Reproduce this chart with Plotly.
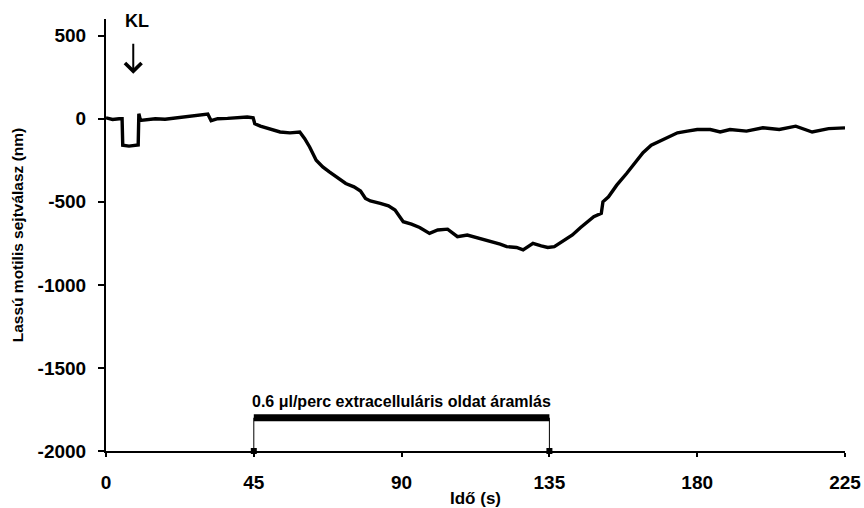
import plotly.graph_objects as go

# Trace readings (time in s, response in nm)
time_s = [0, 2, 4, 4.9, 5.1, 7, 9.8, 10.0, 10.5, 12,
          15, 18, 21, 24, 27, 29, 31, 32, 34, 37,
          40, 43, 44.8, 45.3, 47, 49, 51, 53, 56, 59,
          60.5, 62, 64, 66, 68, 70.5, 73, 75.5, 77.5, 79,
          80.5, 83.5, 86, 88, 90.5, 93, 95.5, 98.5, 101, 104,
          107, 110, 114, 117, 120, 122, 125, 127, 130, 132.5,
          134.5, 136.5, 139.5, 142, 144.5, 146.5, 148.5, 150.8, 151.3, 153,
          155.5, 158.5, 161, 163.5, 166, 169, 171.5, 174, 177, 180,
          184, 187, 190, 195, 200, 205, 210, 215, 220, 225]
response_nm = [5, -5, 0, 0, -160, -165, -158, 30, -10, -5,
               0, -3, 5, 10, 17, 25, 28, -12, 0, 2,
               8, 10, 5, -30, -45, -55, -65, -80, -85, -80,
               -120, -170, -250, -290, -320, -355, -390, -410, -435, -480,
               -495, -510, -525, -550, -620, -635, -655, -690, -670, -665,
               -710, -700, -720, -740, -755, -770, -775, -790, -750, -765,
               -775, -770, -735, -700, -655, -620, -590, -570, -500, -470,
               -400, -330, -270, -205, -160, -130, -105, -85, -75, -65,
               -65, -80, -65, -75, -55, -65, -45, -80, -60, -55]

# Perfusion period bar
flow_start = 45
flow_end = 135
flow_level = -1800
flow_label = "0.6 μl/perc extracelluláris oldat áramlás"

# KL marker
kl_time = 8.3
kl_label = "KL"

x_ticks = [0, 45, 90, 135, 180, 225]
y_ticks = [-2000, -1500, -1000, -500, 0, 500]
x_range = [0, 225]
y_range = [-2000, 600]

FONT = "Liberation Sans, Arial, sans-serif"

fig = go.Figure()

fig.add_trace(go.Scatter(
    x=time_s, y=response_nm, mode="lines",
    line=dict(color="black", width=3.4), showlegend=False, hoverinfo="skip"))

# thick flow bar
fig.add_trace(go.Scatter(
    x=[flow_start, flow_end], y=[flow_level, flow_level], mode="lines",
    line=dict(color="black", width=7), showlegend=False, hoverinfo="skip"))
# thin verticals with square markers on axis
for xv in (flow_start, flow_end):
    fig.add_trace(go.Scatter(
        x=[xv, xv], y=[flow_level, y_range[0]], mode="lines",
        line=dict(color="black", width=1), showlegend=False, hoverinfo="skip",
        cliponaxis=False))
fig.add_trace(go.Scatter(
    x=[flow_start, flow_end], y=[y_range[0], y_range[0]], mode="markers",
    marker=dict(symbol="square", size=6, color="black"),
    showlegend=False, hoverinfo="skip", cliponaxis=False))

fig.add_annotation(x=(flow_start + flow_end) / 2, y=-1700, text="<b>" + flow_label + "</b>",
                   showarrow=False, font=dict(family=FONT, size=16, color="black"),
                   xanchor="center", yanchor="middle")

fig.add_annotation(x=kl_time + 1.1, y=590, text="<b>" + kl_label + "</b>",
                   showarrow=False, font=dict(family=FONT, size=18, color="black"),
                   xanchor="center", yanchor="middle")
fig.add_annotation(x=kl_time, y=270, ax=kl_time, ay=460, axref="x", ayref="y",
                   text="", showarrow=True, arrowhead=4, arrowsize=1.6,
                   arrowwidth=2, arrowcolor="black")

fig.update_layout(
    width=864, height=508,
    margin=dict(l=106, r=19, t=19, b=57, autoexpand=False),
    paper_bgcolor="white", plot_bgcolor="white",
    font=dict(family=FONT, color="black"),
    xaxis=dict(range=x_range, tickvals=x_ticks, automargin=False,
               ticktext=["<b>%d</b>" % v for v in x_ticks],
               showline=True, linecolor="black", linewidth=2,
               ticks="outside", ticklen=4, tickwidth=1.5, tickcolor="black",
               showgrid=False, zeroline=False,
               tickfont=dict(family=FONT, size=19, color="black"),
               ticklabelstandoff=9,
               title=dict(text="<b>Idő (s)</b>", font=dict(family=FONT, size=17, color="black"),
                          standoff=0)),
    yaxis=dict(range=y_range, tickvals=y_ticks, automargin=False,
               ticktext=["<b>%d</b>" % v for v in y_ticks],
               showline=True, linecolor="black", linewidth=2,
               ticks="outside", ticklen=6, tickwidth=2, tickcolor="black",
               showgrid=False, zeroline=False,
               tickfont=dict(family=FONT, size=19, color="black"),
               ticklabelstandoff=8,
               title=dict(text="<b>Lassú motilis sejtválasz (nm)</b>",
                          font=dict(family=FONT, size=15.5, color="black"), standoff=10)),
)

fig.write_html("out.html")
